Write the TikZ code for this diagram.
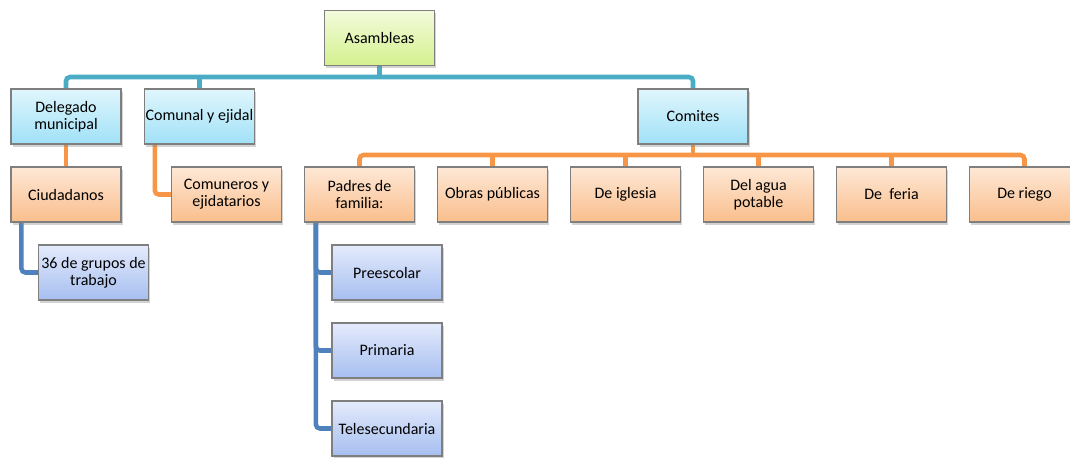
\documentclass[tikz,border=0pt]{standalone}
\usepackage{fontspec}
\setmainfont{Carlito}
\usetikzlibrary{calc,positioning,backgrounds,shadows}
\definecolor{busteal}{HTML}{4BACC6}
\definecolor{busorange}{HTML}{F79646}
\definecolor{busblue}{HTML}{4F81BD}
\definecolor{edge}{HTML}{7F7F7F}

\begin{document}
\begin{tikzpicture}[x=0.75pt,y=-0.75pt,font=\fontsize{12}{13}\selectfont,
  box/.style={draw=edge,line width=0.9pt,minimum width=82.5pt,minimum height=41.25pt,
    inner sep=1pt,align=center,text=black,
    drop shadow={opacity=0.35,shadow xshift=1.2pt,shadow yshift=-2pt}},
  greenbox/.style={box,top color={rgb,255:red,243;green,251;blue,220},bottom color={rgb,255:red,212;green,241;blue,142}},
  cyanbox/.style={box,top color={rgb,255:red,224;green,246;blue,253},bottom color={rgb,255:red,160;green,225;blue,247}},
  orangebox/.style={box,top color={rgb,255:red,254;green,232;blue,214},bottom color={rgb,255:red,250;green,190;blue,140}},
  bluebox/.style={box,top color={rgb,255:red,228;green,235;blue,252},bottom color={rgb,255:red,166;green,190;blue,240}},
  link/.style={line width=3.4pt,rounded corners=3pt}]
\useasboundingbox (0,0) rectangle (1070,457);

\node (asamb) [greenbox] at (379.5,38) {Asambleas};
\node (deleg) [cyanbox] at (66,116.5) {Delegado\\municipal};
\node (comunal) [cyanbox] at (199.5,116.5) {Comunal y ejidal};
\node (comites) [cyanbox] at (693,116.5) {Comites};
\node (ciudad) [orangebox] at (66,194.5) {Ciudadanos};
\node (comuneros) [orangebox] at (226.5,194.5) {Comuneros y\\ejidatarios};
\node (padres) [orangebox] at (359.5,194.5) {Padres de\\familia:};
\node (obras) [orangebox] at (492.5,194.5) {Obras públicas};
\node (iglesia) [orangebox] at (625.5,194.5) {De iglesia};
\node (agua) [orangebox] at (758.5,194.5) {Del agua\\potable};
\node (feria) [orangebox] at (891.5,194.5) {De\ \ feria};
\node (riego) [orangebox] at (1024.5,194.5) {De riego};
\node (grupos) [bluebox] at (93.5,272.5) {36 de grupos de\\trabajo};
\node (preesc) [bluebox] at (387,272.5) {Preescolar};
\node (prim) [bluebox] at (387,350.5) {Primaria};
\node (telesec) [bluebox] at (387,428.5) {Telesecundaria};

\coordinate (topbus) at (379.5,77);
\coordinate (combus) at (693,155);

\begin{scope}[on background layer]
% asambleas
\draw [link,busteal] (asamb.south) -- (asamb.south |- topbus);
\draw [link,busteal] (deleg.north) |- (topbus) -| (comites.north);
\draw [link,busteal] (comunal.north) -- (comunal.north |- topbus);
% delegado y comunal
\draw [link,busorange] (deleg.south) -- (ciudad.north);
\draw [link,busorange] ([xshift=8.25pt]comunal.south west) |- (comuneros.west);
\draw [link,busblue] ([xshift=8.25pt]ciudad.south west) |- (grupos.west);
% comites
\draw [link,busorange] (comites.south) -- (combus);
\draw [link,busorange] (padres.north) |- (combus) -| (riego.north);
\foreach \c in {obras,iglesia,agua,feria}
  \draw [link,busorange] (\c.north) -- (\c.north |- combus);
% padres de familia
\foreach \c in {preesc,prim,telesec}
  \draw [link,busblue] ([xshift=9pt]padres.south west) |- (\c.west);
\end{scope}
\end{tikzpicture}
\end{document}
